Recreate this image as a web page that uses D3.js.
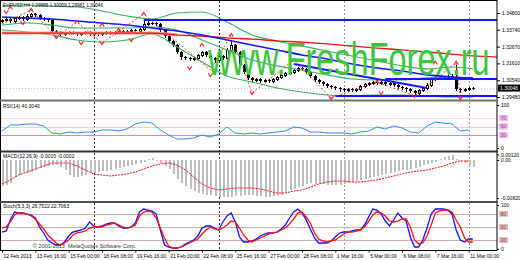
<!DOCTYPE html>
<html><head><meta charset="utf-8">
<script src="https://cdn.jsdelivr.net/npm/d3@7"></script>
<style>body{margin:0;background:#fff;overflow:hidden}svg{display:block}text{font-family:"Liberation Sans",Arial,sans-serif}</style>
</head><body><svg id="c" width="520" height="260"></svg>
<script>
// ---------- DATA ----------
const symbolHeader = "EURUSD,H4  1.29995 1.30059 1.29981 1.30046";
const firstOpen = 1.3432;
const closes = [1.3436,1.3442,1.3429,1.3448,1.3455,1.3442,1.3461,1.3474,1.3467,1.3448,1.3442,1.3436,
1.3366,1.3360,1.3347,1.3353,1.3360,1.3353,1.3347,1.3353,1.3360,1.3347,1.3353,1.3347,
1.3353,1.3360,1.3353,1.3360,1.3366,1.3360,1.3366,1.3372,1.3366,1.3379,1.3410,1.3417,
1.3417,1.3410,1.3372,1.3334,1.3303,1.3277,1.3233,1.3201,1.3195,1.3189,1.3195,1.3214,
1.3233,1.3214,1.3195,1.3182,1.3208,1.3195,1.3246,1.3277,1.3233,1.3151,1.3107,1.3069,
1.3056,1.3062,1.3050,1.3056,1.3050,1.3062,1.3075,1.3088,1.3100,1.3107,1.3119,1.3132,
1.3126,1.3107,1.3081,1.3056,1.3043,1.3031,1.3018,1.3012,1.3005,1.2999,1.2993,1.2999,
1.2993,1.2999,1.3018,1.3031,1.3037,1.3043,1.3037,1.3043,1.3031,1.3037,1.3024,1.3012,
1.3005,1.2999,1.2986,1.2974,1.2993,1.3005,1.3024,1.3062,1.3075,1.3069,1.3075,1.3081,
1.3075,1.2999,1.2993,1.2999,1.3005,1.3005];
const wickUp = [5,8,4,9,6,5,10,8,6,4,7,5, 6,5,8,6,7,4,6,9,5,7,5,6, 8,5,6,7,5,9,6,5,7,10,30,10,
8,6,5,4,7,5,9,6,5,8,6,7, 9,6,8,5,12,7,10,30,6,5,8,6, 5,7,6,8,5,6,7,5,8,6,9,7,
6,5,7,6,8,5,7,6,5,7,6,5, 8,6,5,7,9,6,5,8,6,7,5,6, 7,5,6,8,6,9,10,12,7,9,8,6, 10,75,6,5,7,4];
const wickDn = [6,5,9,5,7,6,5,8,6,9,5,7, 8,6,9,7,5,8,6,5,7,6,8,5, 6,7,5,8,6,5,7,6,5,6,5,7,
6,8,5,7,6,9,8,10,7,9,6,8, 7,9,6,10,7,8,6,5,9,8,7,10, 12,8,9,7,10,6,8,5,7,6,5,7,
6,8,7,9,6,10,8,7,9,12,8,9, 10,8,6,7,5,8,6,7,9,6,8,9, 7,10,8,13,9,7,6,5,8,6,7,6, 6,9,12,8,6,5];

// overlay keypoints (bar index -> price)
const bandIdx = [0,6,12,18,24,30,36,42,48,54,60,66,72,78,84,90,96,102,108,113];
const bbUpper = [1.3524,1.3531,1.3524,1.3518,1.3493,1.3461,1.3442,1.3480,1.3486,1.3423,1.3341,1.3303,1.3271,1.3239,1.3208,1.3176,1.3145,1.3126,1.3138,1.3126];
const bbMiddle = [1.3404,1.3417,1.3404,1.3385,1.3385,1.3385,1.3391,1.3372,1.3309,1.3246,1.3182,1.3145,1.3119,1.3088,1.3062,1.3056,1.3056,1.3069,1.3075,1.3056];
const bbLower = [1.3372,1.3360,1.3341,1.3309,1.3296,1.3309,1.3347,1.3265,1.3170,1.3081,1.3043,1.3005,1.2980,1.2961,1.2955,1.2961,1.2961,1.2955,1.2948,1.2948];
const blueMA = [1.3455,1.3448,1.3442,1.3429,1.3417,1.3404,1.3385,1.3366,1.3341,1.3309,1.3277,1.3246,1.3214,1.3189,1.3157,1.3132,1.3113,1.3088,1.3075,1.3069];
const redIdx = [0,6,12,18,24,30,36,42,48,54,60,66,72,78,84,90,96,102,108,113,119];
const redLine = [1.3353,1.3353,1.3353,1.3353,1.3353,1.3353,1.3353,1.3341,1.3334,1.3322,1.3315,1.3303,1.3296,1.3284,1.3271,1.3258,1.3246,1.3233,1.3220,1.3208,1.3201];
const trendIdx = [70,102];
const trendPrice = [1.3157,1.3005];
const hLinePrice = [1.3436,1.3062,1.2955];
const hLineStart = [34,92,80];
const zigIdx = [0,7,13,18,24,34,50,55,60,70,79,90,99,109,110];
const zigPrice = [1.3410,1.3499,1.3328,1.3423,1.3290,1.3474,1.3119,1.3341,1.2974,1.3182,1.2942,1.3043,1.2955,1.3164,1.2942];
const fracUpIdx = [2,7,18,24,28,34,48,55,70,90,104,109];
const fracUpPrice = [1.3512,1.3499,1.3423,1.3404,1.3372,1.3474,1.3277,1.3341,1.3182,1.3043,1.3164,1.3164];
const fracDnIdx = [1,5,13,19,24,31,45,50,60,79,91,99,110];
const fracDnPrice = [1.3486,1.3417,1.3328,1.3290,1.3290,1.3309,1.3132,1.3088,1.2974,1.2942,1.2974,1.2955,1.2942];
const lastPrice = 1.30046;

// RSI (every 2nd bar)
const rsiLabel = "RSI(14) 40.3040";
const rsi = [39.5,53.5,53.5,55.8,55.8,51.2,34.9,32.6,37.2,34.9,37.2,37.2,41.9,41.9,39.5,44.2,55.8,60.5,58.1,41.9,
30.2,20.9,20.9,23.3,30.2,25.6,32.6,48.8,34.9,32.6,34.9,32.6,34.9,37.2,39.5,48.8,46.5,37.2,37.2,34.9,
34.9,34.9,32.6,37.2,39.5,48.8,44.2,51.2,46.5,37.2,34.9,51.2,60.5,58.1,55.8,39.5,41.9];
const rsiLevels = [70,50,30];

// MACD
const macdLabel = "MACD(12,26,9) -0.0015 -0.0002";
const macdHist = [-0.00562,-0.00540,-0.00497,-0.00367,-0.00324,-0.00259,-0.00281,-0.00259,-0.00216,-0.00173,-0.00151,-0.00130,
-0.00108,-0.00108,-0.00151,-0.00216,-0.00324,-0.00367,-0.00367,-0.00346,-0.00324,-0.00281,-0.00281,-0.00259,
-0.00238,-0.00238,-0.00216,-0.00194,-0.00173,-0.00151,-0.00130,-0.00108,-0.00086,-0.00065,-0.00043,0.00022,
0.00043,-0.00022,-0.00065,-0.00130,-0.00194,-0.00302,-0.00410,-0.00497,-0.00562,-0.00626,-0.00670,-0.00713,
-0.00734,-0.00756,-0.00756,-0.00778,-0.00799,-0.00799,-0.00799,-0.00799,-0.00778,-0.00778,-0.00756,-0.00756,
-0.00756,-0.00778,-0.00778,-0.00799,-0.00799,-0.00778,-0.00778,-0.00756,-0.00713,-0.00648,-0.00626,-0.00583,
-0.00562,-0.00518,-0.00497,-0.00518,-0.00518,-0.00518,-0.00540,-0.00540,-0.00540,-0.00540,-0.00518,-0.00497,
-0.00475,-0.00454,-0.00432,-0.00410,-0.00389,-0.00367,-0.00346,-0.00324,-0.00302,-0.00281,-0.00259,-0.00238,
-0.00216,-0.00216,-0.00194,-0.00173,-0.00151,-0.00108,-0.00086,-0.00065,-0.00043,0.00022,0.00065,0.00086,
0.00108,0.00022,-0.00022,-0.00065,-0.00108,-0.00151];
const macdSignal = [-0.00518,-0.00432,-0.00324,-0.00259,-0.00194,-0.00129,-0.00065,-0.00065,-0.00065,-0.00129,
-0.00216,-0.00302,-0.00324,-0.00345,-0.00324,-0.00302,-0.00259,-0.00194,-0.00129,-0.00086,
-0.00065,-0.00108,-0.00216,-0.00367,-0.00518,-0.00604,-0.00647,-0.00626,-0.00604,-0.00604,
-0.00604,-0.00626,-0.00669,-0.00712,-0.00712,-0.00669,-0.00647,-0.00583,-0.00518,-0.00475,
-0.00453,-0.00453,-0.00475,-0.00475,-0.00453,-0.00432,-0.00388,-0.00345,-0.00302,-0.00259,
-0.00237,-0.00216,-0.00173,-0.00129,-0.00065,-0.00022,-0.00022];
const macdTicks = [0.0012,0,-0.0082];
const macdTickText = ["0.00120","0.00","-0.00820"];

// Stochastic
const stochLabel = "Stoch(5,3,3) 26.7522 22.7063";
const stochK = [38.6,40.9,65.9,84.1,81.8,81.8,79.5,77.3,70.5,50.0,36.4,20.5,
13.6,9.1,9.1,15.9,29.5,38.6,40.9,43.2,47.7,61.4,52.3,50.0,
52.3,56.8,59.1,59.1,52.3,47.7,47.7,50.0,59.1,84.1,90.9,88.6,
86.4,79.5,43.2,9.1,4.5,2.3,2.3,4.5,11.4,15.9,20.5,29.5,
47.7,52.3,52.3,47.7,43.2,61.4,75.0,81.8,61.4,27.3,15.9,15.9,
18.2,22.7,29.5,34.1,36.4,36.4,38.6,45.5,54.5,70.5,84.1,90.9,
81.8,65.9,45.5,25.0,13.6,13.6,13.6,18.2,27.3,36.4,38.6,38.6,
40.9,43.2,43.2,54.5,72.7,90.9,88.6,79.5,63.6,52.3,65.9,81.8,
70.5,63.6,27.3,4.5,4.5,20.5,47.7,79.5,90.9,90.9,90.9,88.6,
79.5,43.2,20.5,15.9,22.7,22.7];
const stochD = [47.7,50.0,61.4,77.3,81.8,81.8,79.5,75.0,68.2,56.8,45.5,31.8,
22.7,13.6,9.1,13.6,20.5,31.8,36.4,38.6,40.9,47.7,50.0,50.0,
50.0,54.5,56.8,59.1,54.5,50.0,47.7,50.0,54.5,75.0,84.1,86.4,
84.1,70.5,47.7,25.0,6.8,2.3,2.3,4.5,9.1,13.6,18.2,22.7,
34.1,43.2,50.0,45.5,43.2,47.7,54.5,63.6,61.4,47.7,31.8,20.5,
15.9,20.5,25.0,29.5,34.1,36.4,38.6,43.2,47.7,56.8,68.2,81.8,
84.1,72.7,59.1,36.4,22.7,18.2,15.9,18.2,20.5,27.3,34.1,38.6,
38.6,40.9,43.2,50.0,63.6,77.3,84.1,81.8,75.0,63.6,61.4,63.6,
68.2,68.2,50.0,20.5,11.4,13.6,29.5,54.5,81.8,86.4,88.6,88.6,
84.1,65.9,50.0,25.0,15.9,15.9];
const stochLevels = [80,50,20];

// axes labels
const priceTicks = [1.34800,1.33740,1.32670,1.31610,1.30540,1.29480];
const timeIdx = [0,8,16,24,32,40,48,56,64,72,80,88,96,104,112];
const timeLabels = ["12 Feb 2013","13 Feb 16:00","15 Feb 00:00","18 Feb 08:00","19 Feb 16:00","21 Feb 00:00","22 Feb 08:00","25 Feb 16:00","27 Feb 00:00","28 Feb 08:00","1 Mar 16:00","5 Mar 00:00","6 Mar 08:00","7 Mar 16:00","11 Mar 00:00"];
const weekIdx = [22,52,82,112];
const watermark = "www.FreshForex.ru";
const copyright = "\u00A9 2001-2013, MetaQuotes Software Corp.";

// ---------- CHART ----------
const svg = d3.select('#c');
const PX0 = 1, PX1 = 497;
const P = {main:[1,100], rsi:[102,151], macd:[153,201], stoch:[203,250]};
const x = d3.scaleLinear().domain([0,114]).range([2, 2 + 4.1667*114]);
const yP = d3.scaleLinear().domain([1.2948,1.3480]).range([97,13]);
const yR = d3.scaleLinear().domain([0,100]).range([148,105]);
const yM = d3.scaleLinear().domain([-0.0082,0]).range([198,160]);
const yS = d3.scaleLinear().domain([0,100]).range([249,205]);
const FS = 5;

const defs = svg.append('defs');
Object.entries(P).forEach(([k,[a,b]])=>{
  defs.append('clipPath').attr('id','cl-'+k).append('rect').attr('x',PX0).attr('y',a).attr('width',PX1-PX0).attr('height',b-a);
});
svg.append('rect').attr('width',520).attr('height',260).attr('fill','#fff');

const gMain = svg.append('g').attr('clip-path','url(#cl-main)');
const gR = svg.append('g').attr('clip-path','url(#cl-rsi)');
const gM = svg.append('g').attr('clip-path','url(#cl-macd)');
const gS = svg.append('g').attr('clip-path','url(#cl-stoch)');

// weekly separators
[gMain,gR,gM,gS].forEach((g,gi)=>{
  const [a,b] = Object.values(P)[gi];
  g.selectAll('line.sep').data(weekIdx).join('line')
    .attr('x1',d=>Math.round(x(d))+0.5).attr('x2',d=>Math.round(x(d))+0.5)
    .attr('y1',a).attr('y2',b)
    .attr('stroke',(d,i)=> i<2 ? '#222' : '#999').attr('stroke-width',1).attr('stroke-dasharray','2,2');
});

// ---- main panel ----
const bars = closes.map((c,i)=>{
  const o = i===0 ? firstOpen : closes[i-1];
  return {i,o,c,h:Math.max(o,c)+wickUp[i]*0.0001,l:Math.min(o,c)-wickDn[i]*0.0001};
});
gMain.append('line').attr('x1',PX0).attr('x2',PX1).attr('y1',Math.round(yP(lastPrice))+0.5).attr('y2',Math.round(yP(lastPrice))+0.5)
  .attr('stroke','#c8c8c8').attr('stroke-dasharray','1,2');

const kp = (idx,vals)=> idx.map((d,i)=>({i:d,v:vals[i]}));
const lineP = d3.line().x(d=>x(d.i)).y(d=>yP(d.v)).curve(d3.curveMonotoneX);
const lineLin = d3.line().x(d=>x(d.i)).y(d=>yP(d.v));

// candles
const cg = gMain.append('g');
bars.forEach(b=>{
  const c = Math.round(x(b.i));
  cg.append('line').attr('x1',c+0.5).attr('x2',c+0.5).attr('y1',Math.round(yP(b.h))).attr('y2',Math.round(yP(b.l))+1).attr('stroke','#000');
  const t = Math.round(yP(Math.max(b.o,b.c))), bt = Math.round(yP(Math.min(b.o,b.c)));
  if (b.c >= b.o) {
    cg.append('rect').attr('x',c-0.5).attr('y',t+0.5).attr('width',2).attr('height',Math.max(bt-t,0.01))
      .attr('fill','#fff').attr('stroke','#000').attr('stroke-width',1);
  } else {
    cg.append('rect').attr('x',c-1).attr('y',t).attr('width',3).attr('height',Math.max(bt-t,1)).attr('fill','#000');
  }
});

[bbUpper,bbMiddle,bbLower].forEach(arr=>{
  gMain.append('path').attr('d',lineP(kp(bandIdx,arr))).attr('fill','none').attr('stroke','#38b060').attr('stroke-width',1.1);
});
gMain.append('path').attr('d',lineP(kp(redIdx.slice(0,8),redLine.slice(0,8)))).attr('fill','none').attr('stroke','#ff9d9d').attr('stroke-width',3);
gMain.append('path').attr('d',lineP(kp(redIdx,redLine))).attr('fill','none').attr('stroke','#ee1111').attr('stroke-width',1.3);
gMain.append('path').attr('d',lineP(kp(bandIdx,blueMA))).attr('fill','none').attr('stroke','#1515ff').attr('stroke-width',1.6);
gMain.append('path').attr('d',lineLin(kp(trendIdx,trendPrice))).attr('fill','none').attr('stroke','#1515ff').attr('stroke-width',2);
hLinePrice.forEach((p,k)=>{
  gMain.append('line').attr('x1',x(hLineStart[k])).attr('x2',PX1).attr('y1',yP(p)).attr('y2',yP(p)).attr('stroke','#1515ff').attr('stroke-width',2);
});
gMain.append('path').attr('d',lineLin(kp(zigIdx,zigPrice))).attr('fill','none').attr('stroke','#ff2020').attr('stroke-width',0.9).attr('stroke-dasharray','2,2');
fracUpIdx.forEach((d,k)=>{
  const cx = x(d), cy = yP(fracUpPrice[k]);
  gMain.append('path').attr('d',`M${cx-2.2},${cy+1.6}L${cx},${cy-1.6}L${cx+2.2},${cy+1.6}`).attr('fill','none').attr('stroke','#ff1a1a').attr('stroke-width',1.1);
});
fracDnIdx.forEach((d,k)=>{
  const cx = x(d), cy = yP(fracDnPrice[k]);
  gMain.append('path').attr('d',`M${cx-2.2},${cy-1.6}L${cx},${cy+1.6}L${cx+2.2},${cy-1.6}`).attr('fill','none').attr('stroke','#ff1a1a').attr('stroke-width',1.1);
});
// watermark: narrow font stretched vertically
gMain.append('text').attr('transform','translate(208,75) scale(1,1.45)').attr('x',0).attr('y',0)
  .attr('font-size',32.5).attr('fill','#3cc43c').text(watermark);
gMain.append('text').attr('x',3).attr('y',7).attr('font-size',4.7).attr('fill','#000').text(symbolHeader);

// ---- RSI ----
rsiLevels.forEach((lv,k)=>{
  gR.append('line').attr('x1',PX0).attr('x2',PX1).attr('y1',Math.round(yR(lv))+0.5).attr('y2',Math.round(yR(lv))+0.5)
    .attr('stroke',['#f3dcf3','#f0c4f0','#e080e0'][k]).attr('stroke-width',1);
});
const rsiPts = rsi.map((v,k)=>({i:k*2,v}));
gR.append('path').attr('d',d3.line().x(d=>x(d.i)).y(d=>yR(d.v))(rsiPts)).attr('fill','none').attr('stroke','#2a8cf0').attr('stroke-width',1);
gR.append('text').attr('x',3).attr('y',108).attr('font-size',FS).attr('fill','#000').text(rsiLabel);

// ---- MACD ----
gM.selectAll('rect.h').data(macdHist).join('rect')
  .attr('x',(d,i)=>Math.round(x(i))).attr('width',2)
  .attr('y',d=>Math.min(yM(0),yM(d))).attr('height',d=>Math.abs(yM(d)-yM(0)))
  .attr('fill','#bdbdbd');
const sigPts = macdSignal.map((v,k)=>({i:k*2,v}));
gM.append('path').attr('d',d3.line().x(d=>x(d.i)).y(d=>yM(d.v))(sigPts)).attr('fill','none').attr('stroke','#ff1010').attr('stroke-width',1).attr('stroke-dasharray','2,1');
gM.append('text').attr('x',3).attr('y',158).attr('font-size',FS).attr('fill','#000').text(macdLabel);

// ---- Stoch ----
stochLevels.forEach(lv=>{
  gS.append('line').attr('x1',PX0).attr('x2',PX1).attr('y1',Math.round(yS(lv))+0.5).attr('y2',Math.round(yS(lv))+0.5)
    .attr('stroke','#cfaeae').attr('stroke-width',1);
});
const sLine = d3.line().x((d,i)=>x(i)).y(d=>yS(d));
gS.append('path').attr('d',sLine(stochK)).attr('fill','none').attr('stroke','#1010ff').attr('stroke-width',1.3);
gS.append('path').attr('d',sLine(stochD)).attr('fill','none').attr('stroke','#ff1010').attr('stroke-width',1.3);
gS.append('text').attr('x',3).attr('y',208).attr('font-size',FS).attr('fill','#000').text(stochLabel);
gS.append('text').attr('x',33).attr('y',248).attr('font-size',5.5).attr('fill','#333').text(copyright);

// ---- frame & separators ----
svg.append('rect').attr('x',0.5).attr('y',0.5).attr('width',PX1-0.5).attr('height',250).attr('fill','none').attr('stroke','#000');
[[100.5,'#707070',2],[151.5,'#303030',2],[202,'#505050',2]].forEach(([yy,col,w])=>{
  svg.append('line').attr('x1',0).attr('x2',PX1+1).attr('y1',yy).attr('y2',yy).attr('stroke',col).attr('stroke-width',w);
});

// ---- axes ----
function styleAxis(g){
  g.select('.domain').remove();
  g.attr('font-size',null).attr('font-family',null);
  g.selectAll('line').attr('stroke','#000');
  g.selectAll('text').attr('font-size',FS).attr('fill','#000');
}
const aP = svg.append('g').attr('transform',`translate(${PX1},0)`)
  .call(d3.axisRight(yP).tickValues(priceTicks).tickSize(3).tickPadding(2).tickFormat(d3.format('.5f')));
styleAxis(aP);
const ly = yP(lastPrice);
svg.append('rect').attr('x',PX1+1).attr('y',ly-3.5).attr('width',22).attr('height',7).attr('fill','#000');
svg.append('text').attr('x',PX1+3).attr('y',ly+1.8).attr('font-size',FS).attr('fill','#fff').text(d3.format('.5f')(lastPrice));

const aR = svg.append('g').attr('transform',`translate(${PX1},0)`)
  .call(d3.axisRight(yR).tickValues([100,0]).tickSize(2).tickPadding(2));
styleAxis(aR);
rsiLevels.forEach(lv=>{
  svg.append('rect').attr('x',PX1+2).attr('y',yR(lv)-3).attr('width',9).attr('height',6).attr('fill','#efb7ef');
  svg.append('text').attr('x',PX1+3.5).attr('y',yR(lv)+1.8).attr('font-size',FS).attr('fill','#a030a0').text(lv);
});
const aM = svg.append('g').attr('transform',`translate(${PX1},0)`)
  .call(d3.axisRight(yM).tickValues(macdTicks).tickSize(2).tickPadding(2).tickFormat((d,i)=>macdTickText[i]));
styleAxis(aM);
const aS = svg.append('g').attr('transform',`translate(${PX1},0)`)
  .call(d3.axisRight(yS).tickValues([100,0]).tickSize(2).tickPadding(2));
styleAxis(aS);
stochLevels.forEach(lv=>{
  svg.append('rect').attr('x',PX1+2).attr('y',yS(lv)-3).attr('width',9).attr('height',6).attr('fill','#e2bcbc');
  svg.append('text').attr('x',PX1+3.5).attr('y',yS(lv)+1.8).attr('font-size',FS).attr('fill','#804040').text(lv);
});

const aT = svg.append('g').attr('transform','translate(0,250.5)')
  .call(d3.axisBottom(x).tickValues(timeIdx).tickSize(2).tickPadding(2).tickFormat((d,i)=>timeLabels[i]));
styleAxis(aT);
aT.selectAll('text').attr('text-anchor','start').attr('dx',1);
</script></body></html>
